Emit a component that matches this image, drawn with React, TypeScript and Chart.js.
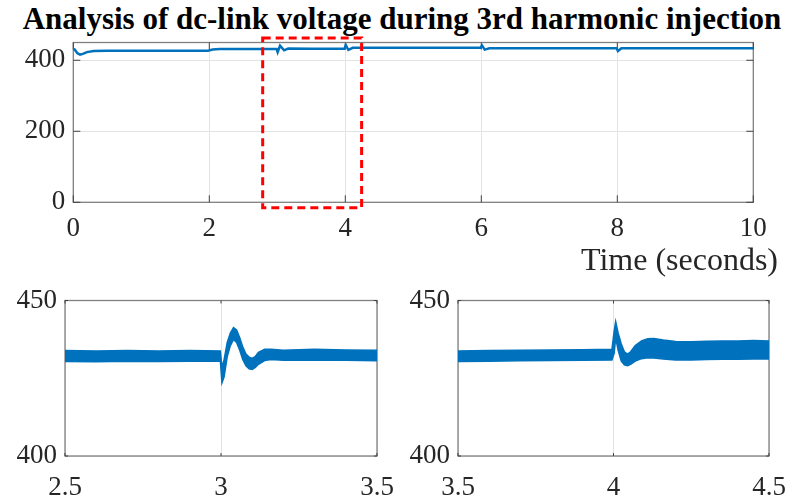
import React, { useEffect, useRef } from "react";
import { Chart, registerables } from "chart.js";

Chart.register(...registerables);

// ---------- data ----------
const topTime = [0, 0.02, 0.06, 0.1, 0.14, 0.2, 0.3, 0.5, 1.0, 1.5, 1.98, 2.05, 2.15, 2.5, 2.99, 3.005, 3.04, 3.1, 3.16, 3.5, 3.99, 4.007, 4.045, 4.11, 4.5, 5.0, 5.99, 6.01, 6.05, 6.12, 7.0, 7.99, 8.01, 8.06, 8.12, 9.0, 10.0];
const topVolt = [432, 430, 420, 416, 418, 423, 426, 427, 427, 427, 427, 430, 431.5, 432, 432, 423, 441, 428, 433, 432.5, 432.5, 443, 429, 435, 435, 435, 435, 442, 430, 433.5, 433.5, 433.5, 426, 434, 433.5, 434, 434];

const leftTime = [2.5, 2.6, 2.7, 2.8, 2.9, 2.998, 3.003, 3.01, 3.02, 3.03, 3.04, 3.05, 3.06, 3.07, 3.08, 3.09, 3.1, 3.11, 3.12, 3.14, 3.16, 3.2, 3.25, 3.3, 3.4, 3.5];
const leftLow = [430.4, 430.3, 430.5, 430.4, 430.5, 430.5, 423.5, 425.5, 432.0, 435.5, 437.5, 436.5, 434.0, 431.0, 429.0, 428.0, 427.8, 428.5, 429.5, 430.7, 431.0, 430.8, 430.8, 430.9, 430.8, 430.6];
const leftHigh = [433.9, 433.8, 433.9, 433.8, 433.9, 433.8, 428.5, 431.0, 436.5, 439.5, 441.3, 440.5, 438.0, 435.0, 432.8, 431.8, 431.4, 432.0, 433.3, 434.3, 434.3, 434.0, 434.2, 434.3, 434.1, 434.0];

const rightTime = [3.5, 3.6, 3.7, 3.8, 3.9, 3.995, 4.002, 4.007, 4.015, 4.025, 4.035, 4.045, 4.055, 4.07, 4.09, 4.11, 4.13, 4.16, 4.2, 4.25, 4.3, 4.35, 4.4, 4.45, 4.5];
const rightLow = [430.4, 430.5, 430.6, 430.7, 430.8, 430.9, 433.0, 438.0, 434.0, 430.5, 429.3, 429.0, 429.5, 430.5, 431.3, 431.6, 431.5, 431.2, 430.9, 430.9, 431.0, 431.1, 431.1, 431.2, 431.2];
const rightHigh = [433.8, 433.9, 434.0, 434.1, 434.2, 434.3, 440.0, 443.2, 439.5, 436.0, 433.5, 432.8, 433.5, 435.5, 437.0, 437.7, 437.8, 437.3, 436.8, 436.7, 436.9, 437.0, 437.0, 437.1, 437.0];

const topXRange = [0, 10];
const topXStep = 2;
const topYRange = [0, 450];
const topYStep = 200;
const leftXRange = [2.5, 3.5];
const rightXRange = [3.5, 4.5];
const zoomXStep = 0.5;
const zoomYRange = [400, 450];
const zoomYStep = 50;

const zoomBoxTime = [2.785, 4.24];
const zoomBoxVolt = [-15, 463];

const titleText = "Analysis of dc-link voltage during 3rd harmonic injection";
const xAxisTitle = "Time (seconds)";

// ---------- styles ----------
const BLUE = "#0072BD";
const FONT = '"Liberation Serif", "Times New Roman", serif';
const TICK_COLOR = "#262626";

const pts = (xs: number[], ys: number[]) => xs.map((x, i) => ({ x, y: ys[i] }));

function framePlugin(tickLen: number) {
  return {
    id: "matlabFrame",
    beforeDatasetsDraw(chart: any) {
      const { ctx, chartArea: a, scales } = chart;
      const x = scales.x;
      const y = scales.y;
      ctx.save();
      ctx.strokeStyle = "#808080";
      ctx.lineWidth = 1.3;
      ctx.strokeRect(a.left, a.top, a.right - a.left, a.bottom - a.top);
      ctx.strokeStyle = "#404040";
      ctx.lineWidth = 1;
      ctx.beginPath();
      x.ticks.forEach((t: any) => {
        const px = x.getPixelForValue(t.value);
        ctx.moveTo(px, a.bottom);
        ctx.lineTo(px, a.bottom - tickLen);
        ctx.moveTo(px, a.top);
        ctx.lineTo(px, a.top + tickLen);
      });
      y.ticks.forEach((t: any) => {
        const py = y.getPixelForValue(t.value);
        ctx.moveTo(a.left, py);
        ctx.lineTo(a.left + tickLen, py);
        ctx.moveTo(a.right, py);
        ctx.lineTo(a.right - tickLen, py);
      });
      ctx.stroke();
      ctx.restore();
    },
  };
}

const zoomBoxPlugin = {
  id: "zoomBox",
  afterDatasetsDraw(chart: any) {
    const { ctx, scales } = chart;
    const x0 = scales.x.getPixelForValue(zoomBoxTime[0]);
    const x1 = scales.x.getPixelForValue(zoomBoxTime[1]);
    const y0 = scales.y.getPixelForValue(zoomBoxVolt[1]);
    const y1 = scales.y.getPixelForValue(zoomBoxVolt[0]);
    ctx.save();
    ctx.strokeStyle = "#ff0000";
    ctx.lineWidth = 3;
    ctx.setLineDash([8, 5]);
    ctx.strokeRect(x0, y0, x1 - x0, y1 - y0);
    ctx.restore();
  },
};

function axisOpts(
  range: number[],
  step: number,
  fitSize: number,
  horizontal: boolean,
  padding: number,
  lineHeight: number
) {
  return {
    type: "linear",
    min: range[0],
    max: range[1],
    ticks: {
      stepSize: step,
      includeBounds: false,
      autoSkip: false,
      maxRotation: 0,
      padding,
      color: TICK_COLOR,
      font: { family: FONT, size: 27, lineHeight },
      callback: (v: number) => String(Math.round(v * 1000) / 1000),
    },
    grid: { color: "#e3e3e3", lineWidth: 1, drawTicks: false },
    border: { display: false },
    afterFit(scale: any) {
      if (horizontal) scale.height = fitSize;
      else scale.width = fitSize;
    },
  };
}

function baseOptions(pad: any, xs: any, ys: any) {
  return {
    responsive: false,
    animation: false,
    events: [],
    layout: { padding: pad },
    plugins: {
      legend: { display: false },
      tooltip: { enabled: false },
      title: { display: false },
    },
    elements: { point: { radius: 0 }, line: { tension: 0 } },
    scales: { x: xs, y: ys },
  };
}

export default function App() {
  const topRef = useRef<HTMLCanvasElement>(null);
  const leftRef = useRef<HTMLCanvasElement>(null);
  const rightRef = useRef<HTMLCanvasElement>(null);

  useEffect(() => {
    const charts: Chart[] = [];

    charts.push(
      new Chart(topRef.current as HTMLCanvasElement, {
        type: "line",
        data: {
          datasets: [
            {
              data: pts(topTime, topVolt),
              borderColor: BLUE,
              borderWidth: 2.5,
              fill: false,
            },
          ],
        },
        options: baseOptions(
          { left: 0, right: 54.7, top: 42.5, bottom: 0 },
          axisOpts(topXRange, topXStep, 47.7, true, 10, 1.2),
          axisOpts(topYRange, topYStep, 73.3, false, 8, 1.2)
        ) as any,
        plugins: [framePlugin(7), zoomBoxPlugin],
      })
    );

    const band = (t: number[], lo: number[], hi: number[]) => [
      {
        data: pts(t, hi),
        borderColor: BLUE,
        backgroundColor: BLUE,
        borderWidth: 1.5,
        fill: "+1",
      },
      {
        data: pts(t, lo),
        borderColor: BLUE,
        borderWidth: 1.5,
        fill: false,
      },
    ];

    charts.push(
      new Chart(leftRef.current as HTMLCanvasElement, {
        type: "line",
        data: { datasets: band(leftTime, leftLow, leftHigh) as any },
        options: baseOptions(
          { left: 0, right: 23, top: 30.5, bottom: 0 },
          axisOpts(leftXRange, zoomXStep, 41, true, 4, 2.1),
          axisOpts(zoomYRange, zoomYStep, 65, false, 8, 1.2)
        ) as any,
        plugins: [framePlugin(3)],
      })
    );

    charts.push(
      new Chart(rightRef.current as HTMLCanvasElement, {
        type: "line",
        data: { datasets: band(rightTime, rightLow, rightHigh) as any },
        options: baseOptions(
          { left: 0, right: 39, top: 30.5, bottom: 0 },
          axisOpts(rightXRange, zoomXStep, 41, true, 4, 2.1),
          axisOpts(zoomYRange, zoomYStep, 58, false, 8, 1.2)
        ) as any,
        plugins: [framePlugin(3)],
      })
    );

    return () => charts.forEach((c) => c.destroy());
  }, []);

  return (
    <div
      style={{
        position: "absolute",
        left: 0,
        top: 0,
        width: 808,
        height: 497,
        background: "#ffffff",
        overflow: "hidden",
      }}
    >
      <div
        style={{
          position: "absolute",
          left: 0,
          top: 3,
          width: 804,
          textAlign: "center",
          font: `bold 31px ${FONT}`,
          lineHeight: "1",
          color: "#000000",
          whiteSpace: "nowrap",
        }}
      >
        {titleText}
      </div>
      <canvas
        ref={topRef}
        width={808}
        height={250}
        style={{ position: "absolute", left: 0, top: 0, width: 808, height: 250 }}
      />
      <div
        style={{
          position: "absolute",
          left: 380,
          top: 243,
          width: 398,
          textAlign: "right",
          font: `32px ${FONT}`,
          lineHeight: "1",
          color: TICK_COLOR,
          whiteSpace: "nowrap",
        }}
      >
        {xAxisTitle}
      </div>
      <canvas
        ref={leftRef}
        width={400}
        height={227}
        style={{ position: "absolute", left: 0, top: 270, width: 400, height: 227 }}
      />
      <canvas
        ref={rightRef}
        width={408}
        height={227}
        style={{ position: "absolute", left: 400, top: 270, width: 408, height: 227 }}
      />
    </div>
  );
}
